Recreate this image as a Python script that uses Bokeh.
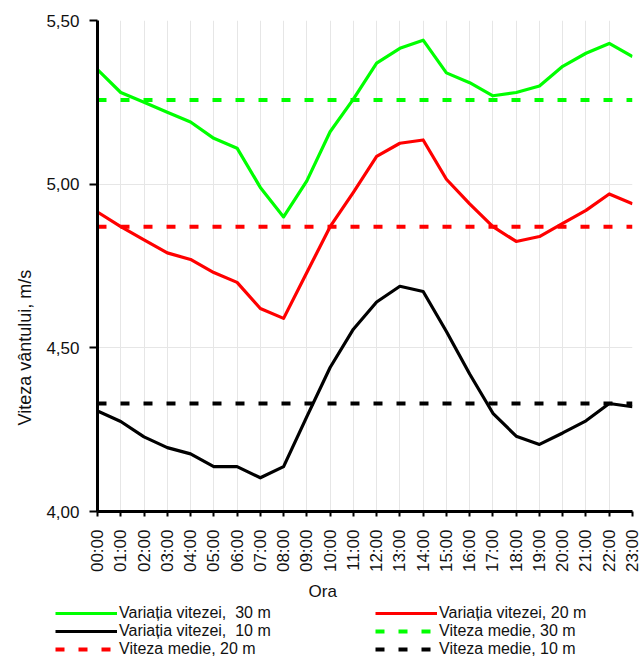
import math
from bokeh.plotting import figure
from bokeh.layouts import column
from bokeh.models import FixedTicker, Legend, LegendItem, Title, Range1d
from bokeh.embed import file_html
from bokeh.resources import INLINE

# ---- data ----
hours = list(range(24))
hour_labels = ["%02d:00" % h for h in hours]
speed_30m = [5.35, 5.28, 5.25, 5.22, 5.19, 5.14, 5.11, 4.99, 4.90, 5.01, 5.16, 5.26,
             5.37, 5.415, 5.44, 5.34, 5.31, 5.27, 5.28, 5.30, 5.36, 5.40, 5.43, 5.39]
speed_20m = [4.915, 4.87, 4.83, 4.79, 4.77, 4.73, 4.70, 4.62, 4.59, 4.73, 4.87, 4.975,
             5.085, 5.125, 5.135, 5.015, 4.94, 4.87, 4.825, 4.84, 4.88, 4.92, 4.97, 4.94]
speed_10m = [4.307, 4.275, 4.228, 4.195, 4.176, 4.137, 4.137, 4.103, 4.137, 4.29, 4.44, 4.557,
             4.64, 4.688, 4.672, 4.55, 4.42, 4.30, 4.23, 4.205, 4.24, 4.277, 4.33, 4.32]
mean_30m = 5.257
mean_20m = 4.87
mean_10m = 4.33
y_ticks = [4.0, 4.5, 5.0, 5.5]
y_tick_labels = ["4,00", "4,50", "5,00", "5,50"]
series_labels = ["Variația vitezei,  30 m", "Variația vitezei, 20 m", "Variația vitezei,  10 m",
                 "Viteza medie, 30 m", "Viteza medie, 20 m", "Viteza medie, 10 m"]

FONT = "Liberation Sans"
GREEN = "#00ff00"
RED = "#ff0000"
BLACK = "#000000"
TXT = "#111111"
DASH = "9 14"

p = figure(width=641, height=604, output_backend="svg", toolbar_location=None,
           x_range=Range1d(hours[0], hours[-1]), y_range=Range1d(y_ticks[0], y_ticks[-1]),
           min_border_left=97, min_border_right=9, min_border_top=20, min_border_bottom=91)
p.outline_line_color = None
p.background_fill_color = "white"

# axes
p.xaxis.ticker = FixedTicker(ticks=hours)
p.xaxis.major_label_overrides = {h: lab for h, lab in zip(hours, hour_labels)}
p.xaxis.major_label_orientation = math.pi / 2
p.yaxis.ticker = FixedTicker(ticks=y_ticks)
p.yaxis.major_label_overrides = {t: lab for t, lab in zip(y_ticks, y_tick_labels)}
for ax in (p.xaxis[0], p.yaxis[0]):
    ax.axis_line_width = 3
    ax.axis_line_color = BLACK
    ax.major_tick_line_width = 2
    ax.major_tick_line_color = BLACK
    ax.major_tick_in = 0
    ax.minor_tick_line_color = None
    ax.major_label_text_font = FONT
    ax.major_label_text_font_size = "17px"
    ax.major_label_text_color = TXT
p.xaxis.major_tick_out = 5
p.xaxis.major_label_standoff = 13
p.yaxis.major_tick_out = 8
p.yaxis.major_label_standoff = 10

p.xgrid.grid_line_color = "#e6e6e6"
p.ygrid.grid_line_color = "#e6e6e6"
p.xgrid.grid_line_width = 1
p.ygrid.grid_line_width = 1

# titles
ytitle = Title(text="Viteza vântului, m/s", align="left", offset=86, standoff=17,
               text_font=FONT, text_font_size="18px", text_font_style="normal", text_color=TXT)
p.add_layout(ytitle, "left")
xtitle = Title(text="Ora", align="left", offset=211, standoff=8,
               text_font=FONT, text_font_size="17px", text_font_style="normal", text_color=TXT)
p.add_layout(xtitle, "below")

# mean lines
p.line([hours[0], hours[-1]], [mean_30m, mean_30m], line_color=GREEN, line_width=4, line_dash=DASH)
p.line([hours[0], hours[-1]], [mean_20m, mean_20m], line_color=RED, line_width=4, line_dash=DASH)
p.line([hours[0], hours[-1]], [mean_10m, mean_10m], line_color=BLACK, line_width=4, line_dash=DASH)

# series
p.line(hours, speed_30m, line_color=GREEN, line_width=3.2, line_join="round")
p.line(hours, speed_20m, line_color=RED, line_width=3.2, line_join="round")
p.line(hours, speed_10m, line_color=BLACK, line_width=3.2, line_join="round")

# ---- legend strip: separate figure; its renderers carry the same data but lie
# outside that strip's visible range, so only the legend keys are seen ----
lg = figure(width=641, height=54, output_backend="svg", toolbar_location=None,
            x_axis_location=None, y_axis_location=None,
            x_range=Range1d(hours[0], hours[-1]), y_range=Range1d(0, 1),
            min_border_left=0, min_border_right=0, min_border_top=0, min_border_bottom=0)
lg.grid.visible = False
lg.outline_line_color = None
legend_x = -42
if "frame_align" in lg.properties():
    lg.frame_align = False
    legend_x = 55
series_data = [speed_30m, speed_20m, speed_10m,
               [mean_30m] * len(hours), [mean_20m] * len(hours), [mean_10m] * len(hours)]
styles = [(GREEN, 3.2, "solid"), (RED, 3.2, "solid"), (BLACK, 3.2, "solid"),
          (GREEN, 4, DASH), (RED, 4, DASH), (BLACK, 4, DASH)]
proxies = [lg.line(hours, ys, line_color=c, line_width=w, line_dash=d)
           for ys, (c, w, d) in zip(series_data, styles)]
# legend fills column by column: left column = items 0, 2, 4; right column = 1, 3, 5
order = [0, 2, 4, 1, 3, 5]
items = [LegendItem(label=series_labels[i], renderers=[proxies[i]]) for i in order]
legend = Legend(items=items, ncols=2, location=(legend_x, 0), padding=0, margin=0, spacing=0,
                glyph_width=62, glyph_height=16, label_height=16, label_width=256, label_standoff=2,
                label_text_font=FONT, label_text_font_size="16px", label_text_color=TXT,
                background_fill_alpha=0, border_line_alpha=0)
lg.add_layout(legend)

layout = column(p, lg, spacing=0)
open("out.html", "w").write(file_html(layout, INLINE))
